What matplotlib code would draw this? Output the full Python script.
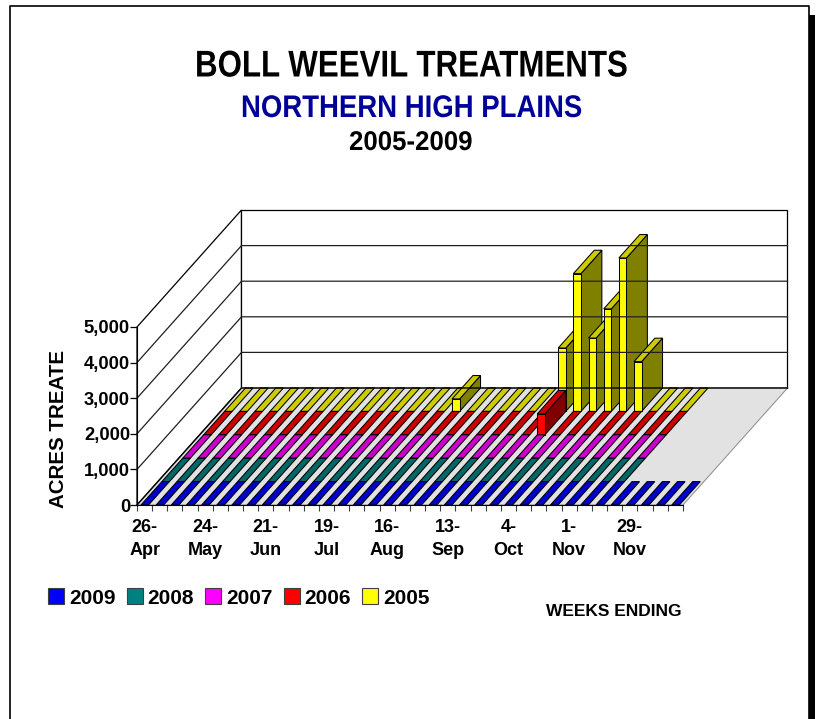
import matplotlib
matplotlib.use('Agg')
import matplotlib.pyplot as plt
from matplotlib.lines import Line2D
from matplotlib.patches import Patch, Rectangle
from matplotlib.patheffects import AbstractPathEffect
from matplotlib.transforms import Affine2D

plt.rcParams['font.family'] = ['Liberation Sans', 'DejaVu Sans']

# data (acres per week, blank weeks at the end are not drawn)
week_labels = ['26-\nApr', '24-\nMay', '21-\nJun', '19-\nJul', '16-\nAug', '13-\nSep', '4-\nOct', '1-\nNov', '29-\nNov']
series_names = ['2009', '2008', '2007', '2006', '2005']
acres_2009 = [0, 0, 0, 0, 0, 0, 0, 0, 0, 0, 0, 0, 0, 0, 0, 0, 0, 0,
              0, 0, 0, 0, 0, 0, 0, 0, 0, 0, 0, 0, 0, 0, 0, 0, 0, 0]
acres_2008 = [0, 0, 0, 0, 0, 0, 0, 0, 0, 0, 0, 0, 0, 0, 0, 0,
              0, 0, 0, 0, 0, 0, 0, 0, 0, 0, 0, 0, 0, 0, 0]
acres_2007 = [0, 0, 0, 0, 0, 0, 0, 0, 0, 0, 0, 0, 0, 0, 0, 0,
              0, 0, 0, 0, 0, 0, 0, 0, 0, 0, 0, 0, 0, 0, 0]
acres_2006 = [0, 0, 0, 0, 0, 0, 0, 0, 0, 0, 0, 0, 0, 0, 0, 0,
              0, 0, 0, 0, 0, 0, 590, 0, 0, 0, 0, 0, 0, 0, 0]
acres_2005 = [0, 0, 0, 0, 0, 0, 0, 0, 0, 0, 0, 0, 0, 0, 0, 350,
              0, 0, 0, 0, 0, 0, 1780, 3870, 2060, 2880, 4310, 1400, 0, 0, 0]
value_ticks = [0, 1000, 2000, 3000, 4000, 5000]

all_series = [acres_2009, acres_2008, acres_2007, acres_2006, acres_2005]
front_cols = ['#0000ff', '#008080', '#ff00ff', '#ff0000', '#ffff00']
top_cols = ['#0000cc', '#006666', '#cc00cc', '#cc0000', '#cccc00']
side_cols = ['#000080', '#004040', '#800080', '#800000', '#808000']

W, H = 820, 719
N_WEEKS = 36
px_week = 546 / N_WEEKS
px_val = 178 / 5000
x0, y0 = 137, 505
# how far one series row shifts the drawing, in week and acre units
DX = 20.9 / px_week
DY = 23.4 / px_val
BAR_L = 0.26
BAR_W = 0.5
N_ROWS = len(all_series)


def pt(week, row, val):
    return week + row * DX, val + row * DY


class Squeeze(AbstractPathEffect):
    # the titles are condensed horizontally in the original
    def __init__(self, sx, cx):
        super().__init__()
        self.sx = sx
        self.cx = cx

    def draw_path(self, renderer, gc, tpath, affine, rgbFace=None):
        squeeze = Affine2D().translate(-self.cx, 0).scale(self.sx, 1).translate(self.cx, 0)
        renderer.draw_path(gc, tpath, affine + squeeze, rgbFace)


fig = plt.figure(figsize=(W / 100, H / 100), dpi=100)
ax = fig.add_axes([0, 0, 1, 1])
ax.set_xlim(-x0 / px_week, (W - x0) / px_week)
ax.set_ylim(-(H - y0) / px_val, y0 / px_val)
ax.patch.set_visible(False)


def poly(corners, color, edge='black', lw=0.75):
    xs = [c[0] for c in corners]
    ys = [c[1] for c in corners]
    ax.fill(xs, ys, facecolor=color, edgecolor=edge, linewidth=lw, joinstyle='miter')


def title_text(s, left, right, ymid, size, color='black'):
    t = fig.text((left + right) / 2 / W, 1 - ymid / H, s, ha='center', va='center', fontsize=size,
                 fontweight='bold', color=color)
    natural = t.get_window_extent(fig.canvas.get_renderer()).width
    t.set_path_effects([Squeeze((right - left) / natural, (left + right) / 2)])


top_val = value_ticks[-1]

# walls and floor
poly([pt(0, 0, 0), pt(0, N_ROWS, 0), pt(0, N_ROWS, top_val), pt(0, 0, top_val)], 'white', lw=0.9)
poly([pt(0, N_ROWS, 0), pt(N_WEEKS, N_ROWS, 0), pt(N_WEEKS, N_ROWS, top_val), pt(0, N_ROWS, top_val)], 'white', lw=0.9)
for v in value_ticks[1:-1]:
    ax.plot(*zip(pt(0, 0, v), pt(0, N_ROWS, v), pt(N_WEEKS, N_ROWS, v)), color='#202020', lw=0.9)
poly([pt(0, 0, 0), pt(N_WEEKS, 0, 0), pt(N_WEEKS, N_ROWS, 0), pt(0, N_ROWS, 0)], '#e2e2e2', edge='#909090')
ax.plot(*zip(pt(0, 0, 0), pt(0, N_ROWS, 0), pt(N_WEEKS, N_ROWS, 0)), color='black', lw=1.0)

# bars, back row first and left to right so nearer faces cover further ones
for row in range(N_ROWS - 1, -1, -1):
    vals = all_series[row]
    for i in range(len(vals)):
        l = i + BAR_L
        r = l + BAR_W
        v = vals[i]
        if v > 0:
            poly([pt(r, row, 0), pt(r, row + 1, 0), pt(r, row + 1, v), pt(r, row, v)], side_cols[row])
        poly([pt(l, row, v), pt(r, row, v), pt(r, row + 1, v), pt(l, row + 1, v)], top_cols[row])
        if v > 0:
            poly([pt(l, row, 0), pt(r, row, 0), pt(r, row, v), pt(l, row, v)], front_cols[row])

# axes proper
for side in ['top', 'right']:
    ax.spines[side].set_visible(False)
ax.spines['left'].set_position(('data', 0))
ax.spines['left'].set_bounds(0, top_val)
ax.spines['bottom'].set_position(('data', 0))
ax.spines['bottom'].set_bounds(0, N_WEEKS)
ax.set_yticks(value_ticks)
ax.set_yticklabels([f'{v:,}' for v in value_ticks], fontsize=13.2, fontweight='bold')
ax.tick_params(axis='y', length=5, width=0.9, pad=0)
ax.set_xticks([4 * k + 0.5 for k in range(len(week_labels))])
ax.set_xticklabels(week_labels, fontsize=13, fontweight='bold', linespacing=1.47)
ax.set_xticks(range(N_WEEKS + 1), minor=True)
ax.tick_params(axis='x', which='major', length=0, pad=10)
ax.tick_params(axis='x', which='minor', length=4, width=0.8, color='#404040')

# axis titles
fig.text(58.5 / W, 1 - 429 / H, 'ACRES TREATE', rotation=90, ha='center', va='center', fontsize=14.8, fontweight='bold')
fig.text(614 / W, 1 - 612 / H, 'WEEKS ENDING', ha='center', va='center', fontsize=12.5, fontweight='bold')

# chart titles
title_text('BOLL WEEVIL TREATMENTS', 195, 628, 67, 26.8)
title_text('NORTHERN HIGH PLAINS', 241, 583, 109, 22.5, color='#000099')
title_text('2005-2009', 349, 473, 143, 19.5)

# legend
handles = [Patch(facecolor=c, edgecolor='#404040', linewidth=0.8) for c in front_cols]
leg = fig.legend(handles, series_names, loc='center left', bbox_to_anchor=(48 / W, 1 - 598 / H), ncol=5,
                 frameon=False, borderpad=0, borderaxespad=0, handlelength=0.77, handleheight=0.77,
                 handletextpad=0.24, columnspacing=0.53, prop={'size': 15, 'weight': 'bold'})

# page frame with its drop shadow
fig.add_artist(Rectangle((809 / W, 0), 6 / W, 1 - 15 / H, transform=fig.transFigure, facecolor='black', edgecolor='none'))
fig.add_artist(Line2D([10 / W, 10 / W, 809 / W, 809 / W], [0, 1 - 6 / H, 1 - 6 / H, 0], transform=fig.transFigure, color='black', lw=1.2))

fig.savefig('out.png', dpi=100)
